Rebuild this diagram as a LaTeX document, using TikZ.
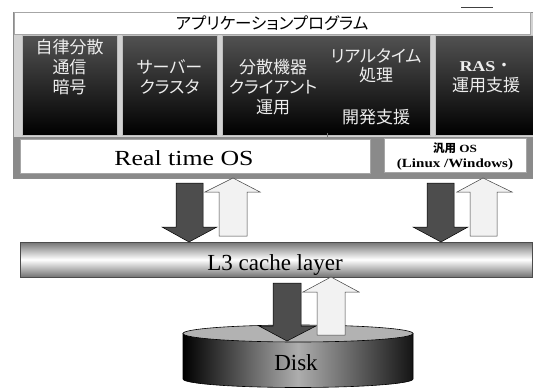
\documentclass[tikz,border=0pt]{standalone}
\usepackage{fontspec}
\setmainfont{Liberation Serif}
\newfontfamily\jpfont[RawFeature=+palt]{Noto Sans CJK JP}
\newfontfamily\jpplain{Noto Sans CJK JP}
\newfontfamily\widerm[FakeStretch=1.2]{Liberation Serif}
\usetikzlibrary{shapes.geometric}
\definecolor{framebg}{HTML}{D2D2D2}
\definecolor{osgray}{HTML}{8A8A8A}
\definecolor{darkarrow}{HTML}{4D4D4D}
\definecolor{lightarrow}{HTML}{F2F2F2}
\definecolor{jtxt}{HTML}{EEEEEE}
\tikzset{
  darkbox/.style={draw=black!25, line width=0.8pt, top color=black!68, bottom color=black, inner sep=0pt, anchor=north west},
  whitebox/.style={draw=black!35, line width=0.6pt, fill=white, inner sep=0pt},
  jtext/.style={text=jtxt, font=\jpfont\fontsize{17}{20}\selectfont, align=center, inner sep=0pt},
  darr/.style={draw=black, fill=darkarrow, line width=0.5pt, line join=miter},
  larr/.style={draw=black!75, fill=lightarrow, line width=0.5pt, line join=miter},
  serifbig/.style={font=\fontsize{23}{26}\selectfont, inner sep=0pt},
}
\begin{document}
\begin{tikzpicture}[x=1pt,y=-1pt]
\useasboundingbox (0,0) rectangle (533,389);
% upper frame
\path[fill=framebg, draw=black!45, line width=0.6pt] (13,12) rectangle (545,178);
\node[whitebox, minimum width=516pt, minimum height=22pt, font=\jpfont\fontsize{16.5}{18}\selectfont] (app) at (272,23) {アプリケーションプログラム};
% dark boxes
\node[darkbox, minimum width=95pt, minimum height=100pt] (b1) at (22,35) {};
\node[darkbox, minimum width=95pt, minimum height=100pt] (b2) at (122,35) {};
\node[darkbox, minimum width=208pt, minimum height=100pt] (b3) at (222,35) {};
\node[darkbox, minimum width=105pt, minimum height=100pt] (b4) at (435,35) {};
\draw[black!55, line width=0.6pt] (327,133) -- (327,139);
% OS strip
\path[fill=osgray] (13,137) rectangle (545,178);
\node[whitebox, minimum width=350pt, minimum height=34pt] (rtos) at (195,156) {};
\node[whitebox, minimum width=142pt, minimum height=34pt] (gpos) at (455,155.5) {};
% texts in boxes
\node[jtext] (t1) at (69.5,67) {自律分散\\通信\\暗号};
\node[jtext] (t2) at (169.5,77) {サーバー\\クラスタ};
\node[jtext] (t3) at (273,87) {分散機器\\クライアント\\運用};
\node[jtext, font=\jpfont\fontsize{17}{18.5}\selectfont] (t4) at (376,66) {リアルタイム\\処理};
\node[jtext] (t5) at (376,117) {開発支援};
\node[jtext] (t6) at (486,77) {{\widerm\bfseries\fontsize{15}{20}\selectfont RAS}{\jpplain ・}\\運用支援};
\node[font=\widerm\fontsize{21.5}{26}\selectfont, inner sep=0pt, anchor=base] (rtlabel) at (184,165) {Real time OS};
\node[inner sep=0pt, anchor=base, font=\widerm\bfseries\fontsize{11}{13}\selectfont] (gp1) at (455,152) {{\jpfont\fontsize{11.5}{13}\selectfont 汎用} OS};
\node[inner sep=0pt, anchor=base, font=\widerm\bfseries\fontsize{12.5}{14}\selectfont] (gp2) at (455,167.5) {(Linux /Windows)};
% small mark top right
\draw[black!75, line width=0.8pt] (461,7) -- (493,7);
% cache bar
\node[draw=black!70, line width=0.6pt, top color=black!55, bottom color=black!55, middle color=white, minimum width=512pt, minimum height=35pt, inner sep=0pt] (cache) at (276,259.5) {};
\node[serifbig, anchor=base] (cachelabel) at (275,270) {L3 cache layer};
% disk
\path[left color=black, right color=black!92, middle color=black!32, draw=black, line width=0.6pt]
  (183,333.5) -- (183,379) arc[start angle=180, end angle=360, x radius=115pt, y radius=8.5pt] -- (413,333.5) -- cycle;
\draw[fill=black!30, line width=0.6pt] (298,333.5) ellipse [x radius=115pt, y radius=8.5pt];
\node[serifbig, anchor=base] (disk) at (296,370) {Disk};
% upper arrows
\draw[darr] (176,183) -- (203,183) -- (203,227) -- (217,227) -- (189,242) -- (162,227) -- (176,227) -- cycle;
\draw[larr] (219,236) -- (247,236) -- (247,192) -- (260,192) -- (233,178) -- (205,192) -- (219,192) -- cycle;
\draw[darr] (427,183) -- (454,183) -- (454,227) -- (468,227) -- (441,242) -- (413,227) -- (427,227) -- cycle;
\draw[larr] (470,236) -- (497,236) -- (497,192) -- (512,192) -- (483,178) -- (457,192) -- (470,192) -- cycle;
% lower arrows
\draw[darr] (273,283) -- (301,283) -- (301,326) -- (316,326) -- (287,341) -- (259,326) -- (273,326) -- cycle;
\draw[larr] (317,335) -- (345,335) -- (345,292) -- (359,292) -- (331,277) -- (303,292) -- (317,292) -- cycle;
\end{tikzpicture}
\end{document}
